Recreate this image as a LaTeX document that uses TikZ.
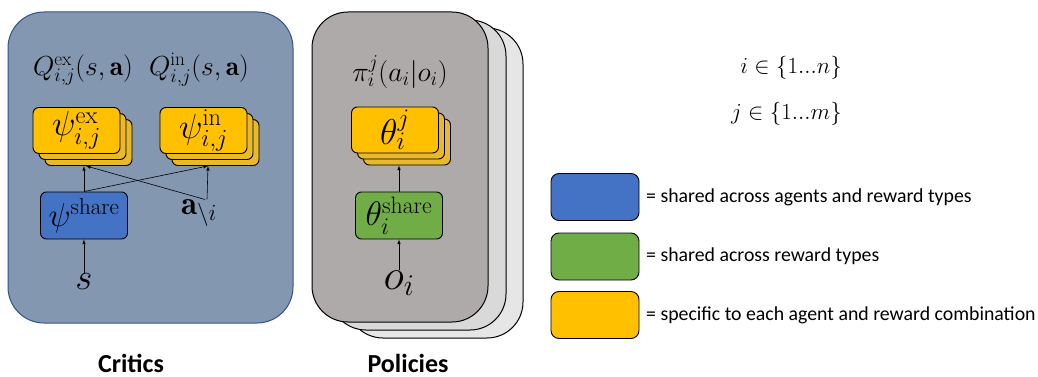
\RequirePackage{fix-cm}
\documentclass[tikz,border=0pt]{standalone}
\usepackage{fontspec}
\newfontfamily\calibri{Carlito}
\usetikzlibrary{arrows}
\definecolor{CriticBg}{RGB}{132,151,176}
\definecolor{CriticEdge}{RGB}{47,82,143}
\definecolor{PolicyBg}{RGB}{174,170,170}
\definecolor{PolicyBgB}{RGB}{217,217,217}
\definecolor{PolicyBgC}{RGB}{231,230,230}
\definecolor{Specific}{RGB}{255,192,0}
\definecolor{SpecificBack}{RGB}{232,185,45}
\definecolor{SharedAll}{RGB}{68,114,196}
\definecolor{SharedReward}{RGB}{112,173,71}
\newcommand{\fs}[1]{\fontsize{#1}{1.2\dimexpr#1pt\relax}\selectfont}

\begin{document}
\begin{tikzpicture}[x=1pt, y=-1pt]
	\tikzstyle{every node}=[inner sep=0pt, align=center];
	\tikzstyle{panel}=[draw, line width=1pt, rounded corners=36pt];
	\tikzstyle{card}=[draw, shape=rectangle, rounded corners=6pt, line width=0.9pt, minimum width=87pt, minimum height=46pt];
	\tikzstyle{swatch}=[draw, shape=rectangle, rounded corners=8pt, line width=0.9pt, minimum width=88pt, minimum height=47pt];
	\tikzstyle{flow}=[-latex, line width=0.6pt];
	\useasboundingbox (0,0) rectangle (1038,377);
	\draw [panel, fill=CriticBg, draw=CriticEdge] (8,12) rectangle (293,323);
	\draw [panel, fill=PolicyBgC] (347,28) rectangle (523,338);
	\draw [panel, fill=PolicyBgB] (330,20) rectangle (506,330);
	\draw [panel, fill=PolicyBg] (312,12) rectangle (488,322);
	\node (qex) at (83,70) {\fs{27.5}$Q^{\mathrm{ex}}_{i,j}(s,\mathbf{a})$};
	\node (qin) at (199,70) {\fs{27.5}$Q^{\mathrm{in}}_{i,j}(s,\mathbf{a})$};
	\node (pol) at (400,72) {\fs{28}$\pi^j_i(a_i|o_i)$};
	\node [card, fill=SpecificBack] (psiexC) at (88.5,142.5) {};
	\node [card, fill=SpecificBack] (psiexB) at (82.5,136.5) {};
	\node [card, fill=Specific] (psiex) at (76.5,130.5) {\fs{35}$\psi^{\mathrm{ex}}_{i,j}$};
	\node [card, fill=SpecificBack] (psiinC) at (215.5,142.5) {};
	\node [card, fill=SpecificBack] (psiinB) at (209.5,136.5) {};
	\node [card, fill=Specific] (psiin) at (203.5,130.5) {\fs{35}$\psi^{\mathrm{in}}_{i,j}$};
	\node [card, fill=SpecificBack] (thetaC) at (407,142) {};
	\node [card, fill=SpecificBack] (thetaB) at (401,136) {};
	\node [card, fill=Specific] (theta) at (395,130) {\fs{36}$\theta^j_i$};
	\node [card, fill=SharedAll, minimum height=47pt] (psish) at (84,215.5) {\fs{33}$\psi^{\mathrm{share}}$};
	\node [card, fill=SharedReward, minimum height=47pt] (thetash) at (399,215.5) {\fs{34}$\theta^{\mathrm{share}}_i$};
	\node (act) at (199,213) {\fs{33}$\mathbf{a}_{\backslash i}$};
	\node (st) at (84,282) {\fs{37}$s$};
	\node (obs) at (399,283) {\fs{43}$o_i$};
	\draw [flow] (st) -- (psish);
	\draw [flow] (psish.north) -- (psish.north |- psiexC.south);
	\draw [flow] (psish.north) -- ([xshift=-7.5pt]psiinC.south);
	\draw [flow] ([xshift=6pt]act.north) -- ([xshift=-2.5pt]psiexC.south);
	\draw [flow] ([xshift=8pt]act.north) -- ([xshift=-7.5pt]psiinC.south);
	\draw [flow] (obs) -- (thetash);
	\draw [flow] (thetash.north) -- (thetash.north |- thetaC.south);
	\node [anchor=east] (irange) at (842,68) {\fs{23}$i\in\{1...n\}$};
	\node [anchor=east] (jrange) at (842,114) {\fs{23}$j\in\{1...m\}$};
	\node [swatch, fill=SharedAll] (keyall) at (595,197) {};
	\node [swatch, fill=SharedReward] (keyrew) at (595,256.5) {};
	\node [swatch, fill=Specific] (keyspec) at (595,315) {};
	\node [anchor=west] (txtall) at (646,197) {\calibri\fs{19.8}= shared across agents and reward types};
	\node [anchor=west] (txtrew) at (646,256.5) {\calibri\fs{19.8}= shared across reward types};
	\node [anchor=west] (txtspec) at (646,315) {\calibri\fs{19.8}= specific to each agent and reward combination};
	\node (critics) at (131,363) {\calibri\bfseries\fs{26}Critics};
	\node (policies) at (408,363) {\calibri\bfseries\fs{26}Policies};
\end{tikzpicture}
\end{document}
